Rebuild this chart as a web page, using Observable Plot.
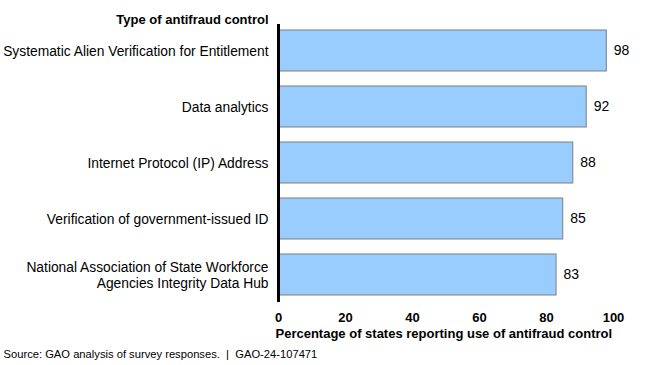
<!DOCTYPE html>
<html>
<head>
<meta charset="utf-8">
<script src="https://cdn.jsdelivr.net/npm/d3@7"></script>
<script src="https://cdn.jsdelivr.net/npm/@observablehq/plot@0.6"></script>
<style>
  body { margin: 0; background: #fff; }
  svg { font-family: "Liberation Sans", Arial, sans-serif; }
</style>
</head>
<body>
<div id="chart"></div>
<script>
const categories = [
  "Systematic Alien Verification for Entitlement",
  "Data analytics",
  "Internet Protocol (IP) Address",
  "Verification of government-issued ID",
  "National Association of State Workforce\nAgencies Integrity Data Hub"
];
const values = [98, 92, 88, 85, 83];
const xTicks = [0, 20, 40, 60, 80, 100];
const yTitle = "Type of antifraud control";
const xTitle = "Percentage of states reporting use of antifraud control";
const source = "Source: GAO analysis of survey responses.  |  GAO-24-107471";

const data = categories.map((c, i) => ({category: c, value: values[i]}));

const chart = Plot.plot({
  width: 650,
  height: 365,
  marginLeft: 278,
  marginRight: 37,
  marginTop: 24,
  marginBottom: 63,
  style: {fontFamily: "'Liberation Sans', Arial, sans-serif", fontSize: "13px", color: "#000"},
  x: {domain: [0, 100]},
  y: {domain: categories, paddingInner: 0.27, paddingOuter: 0.106, align: 0.42},
  marks: [
    Plot.barX(data, {x: "value", y: "category", fill: "#99ccff", stroke: "#7f7f7f", strokeWidth: 1}),
    Plot.text(data, {x: "value", y: "category", text: d => String(d.value), textAnchor: "start", dx: 7, fontSize: 14, fill: "#000"}),
    Plot.axisY({tickSize: 0, tickPadding: 10, label: null, fontSize: 13.8, lineHeight: 1.15}),
    Plot.axisX({ticks: xTicks, tickSize: 0, tickPadding: 10, label: null, fontWeight: "bold", fontSize: 13}),
    Plot.ruleX([0], {stroke: "#000", strokeWidth: 3}),
    Plot.text([yTitle], {frameAnchor: "top-left", dx: -10, dy: -10, textAnchor: "end", fontWeight: "bold", fontSize: 13}),
    Plot.text([xTitle], {frameAnchor: "bottom-left", dx: -3, dy: 35, textAnchor: "start", fontWeight: "bold", fontSize: 13}),
    Plot.text([source], {frameAnchor: "bottom-left", dx: -275, dy: 55, textAnchor: "start", fontSize: 11.2})
  ]
});
document.getElementById("chart").appendChild(chart);
</script>
</body>
</html>
